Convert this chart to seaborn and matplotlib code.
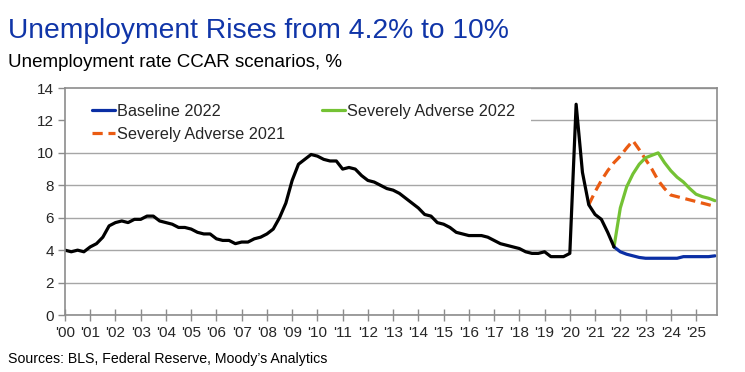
import matplotlib
matplotlib.use("Agg")
import matplotlib.pyplot as plt
from matplotlib.patches import Rectangle
import seaborn as sns
import numpy as np

# quarterly unemployment rate, 2000Q1 - 2021Q4
history = [4.0, 3.9, 4.0, 3.9,
           4.2, 4.4, 4.8, 5.5,
           5.7, 5.8, 5.7, 5.9,
           5.9, 6.1, 6.1, 5.8,
           5.7, 5.6, 5.4, 5.4,
           5.3, 5.1, 5.0, 5.0,
           4.7, 4.6, 4.6, 4.4,
           4.5, 4.5, 4.7, 4.8,
           5.0, 5.3, 6.0, 6.9,
           8.3, 9.3, 9.6, 9.9,
           9.8, 9.6, 9.5, 9.5,
           9.0, 9.1, 9.0, 8.6,
           8.3, 8.2, 8.0, 7.8,
           7.7, 7.5, 7.2, 6.9,
           6.6, 6.2, 6.1, 5.7,
           5.6, 5.4, 5.1, 5.0,
           4.9, 4.9, 4.9, 4.8,
           4.6, 4.4, 4.3, 4.2,
           4.1, 3.9, 3.8, 3.8,
           3.9, 3.6, 3.6, 3.6,
           3.8, 13.0, 8.8, 6.8,
           6.2, 5.9, 5.1, 4.2]

# Severely Adverse 2021, 2020Q4 - 2025Q4
sa2021 = [6.8, 7.6, 8.3, 8.9, 9.4, 9.8, 10.3, 10.75, 10.2, 9.6, 9.0, 8.3, 7.8,
          7.4, 7.3, 7.2, 7.1, 7.0, 6.9, 6.8, 6.7]

# 2022 scenarios, 2021Q4 - 2025Q4
sa2022 = [4.2, 6.6, 7.9, 8.7, 9.3, 9.7, 9.85, 10.0, 9.4, 8.9, 8.5, 8.2, 7.8,
          7.45, 7.3, 7.2, 7.05]
baseline2022 = [4.2, 3.9, 3.75, 3.65, 3.55, 3.5, 3.5, 3.5, 3.5, 3.5, 3.5, 3.6,
                3.6, 3.6, 3.6, 3.6, 3.65]

years = list(range(2000, 2026))
year_labels = ["'" + str(y)[2:] for y in years]

t_hist = 2000 + np.arange(len(history)) / 4
t_sa21 = 2020.75 + np.arange(len(sa2021)) / 4
t_22 = 2021.75 + np.arange(len(sa2022)) / 4

sns.set_style("white")
plt.rcParams['font.family'] = ['Liberation Sans', 'DejaVu Sans']

fig = plt.figure(figsize=(7.45, 3.72), dpi=100)
ax = fig.add_axes([0.0872, 0.1532, 0.8752, 0.6102])

blue = "#0a2ea4"
green = "#74c234"
orange = "#ea5b12"

sns.lineplot(x=t_sa21, y=sa2021, ax=ax, color=orange, lw=2.3,
             linestyle=(0, (3.2, 1.8)), label="Severely Adverse 2021")
sns.lineplot(x=t_22, y=sa2022, ax=ax, color=green, lw=2.3, label="Severely Adverse 2022")
sns.lineplot(x=t_22, y=baseline2022, ax=ax, color=blue, lw=2.3, label="Baseline 2022")
sns.lineplot(x=t_hist, y=history, ax=ax, color="black", lw=2.3)

ax.set_xlim(2000, 2025.83)
ax.set_ylim(0, 14)
ax.set_yticks(range(0, 15, 2))
ax.set_xticks(years)
ax.set_xticklabels(year_labels)
ax.set_xlabel("")
ax.set_ylabel("")
ax.yaxis.grid(True, color="#a6a6a6", lw=1)
ax.set_axisbelow(True)
for s in ax.spines.values():
    s.set_color("#8c8c8c")
    s.set_linewidth(1.2)
ax.tick_params(axis="x", direction="inout", length=8, width=1, color="#8c8c8c",
               labelsize=11, pad=4, bottom=True)
ax.tick_params(axis="y", direction="out", length=5, width=1, color="#8c8c8c",
               labelsize=11, pad=3, left=True)

# white block behind the legend hides the upper gridline
ax.add_patch(Rectangle((0, 0.75), 0.715, 0.25, transform=ax.transAxes,
                       facecolor="white", edgecolor="none", zorder=1))

h, l = ax.get_legend_handles_labels()
order = [2, 0, 1]
ax.legend([h[i] for i in order], [l[i] for i in order], ncol=2,
          loc="upper left", bbox_to_anchor=(0.0414, 0.93), fontsize=11.7,
          frameon=False, handlelength=1.42, handletextpad=0.1,
          columnspacing=2.3, labelspacing=0.5, borderpad=0, borderaxespad=0)

fig.text(0.011, 0.899, "Unemployment Rises from 4.2% to 10%", color="#1035a8",
         fontsize=20.3, va="baseline", ha="left")
fig.text(0.011, 0.819, "Unemployment rate CCAR scenarios, %", color="black",
         fontsize=13.5, va="baseline", ha="left")
fig.text(0.011, 0.025, "Sources: BLS, Federal Reserve, Moody\u2019s Analytics", color="black",
         fontsize=10.2, va="baseline", ha="left")

fig.savefig("out.png", dpi=100)
